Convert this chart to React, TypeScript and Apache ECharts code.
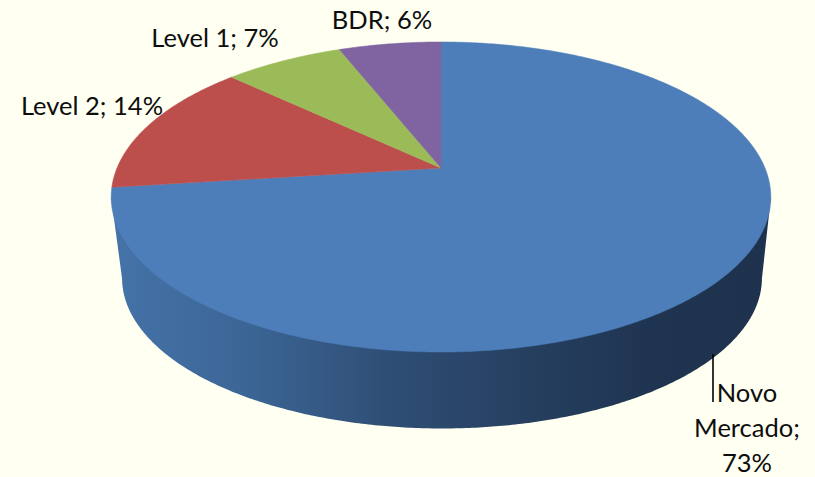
import React, { useEffect, useRef } from "react";
import * as echarts from "echarts";

const categories = ["Novo Mercado", "Level 2", "Level 1", "BDR"];
const values = [73, 14, 7, 6];
const sliceColors = ["#4D7EBA", "#BC4F4C", "#9BBB59", "#8064A2"];
const sideStops = [
  { offset: 0, color: "#4573A8" },
  { offset: 0.2, color: "#3C6696" },
  { offset: 0.42, color: "#2F4E75" },
  { offset: 0.62, color: "#264061" },
  { offset: 0.82, color: "#1F3450" },
  { offset: 1, color: "#1E324D" },
];
const labelLines = [["Novo", "Mercado;", "73%"], ["Level 2; 14%"], ["Level 1; 7%"], ["BDR; 6%"]];
const labelCentres = [[747, 392], [92, 105], [215, 37], [382, 19]];
const LINE_HEIGHT = 35;

// Perspective projection of the unit disc on to the page.
const view = { cx: 441, apexY: 168, a: 324, b: 149.6, k: 0.187 };
const base = { dx: 1, apexY: 250, scale: 0.97 };
const total = values.reduce((s, v) => s + v, 0);

function rim(theta: number): [number, number] {
  const u = Math.sin(theta);
  const v = Math.cos(theta);
  const w = 1 + view.k * v;
  return [view.cx + (view.a * u) / w, view.apexY - (view.b * v) / w];
}

function baseRim(theta: number): [number, number] {
  const [x, y] = rim(theta);
  return [
    view.cx + base.dx + base.scale * (x - view.cx),
    base.apexY + base.scale * (y - view.apexY),
  ];
}

function startOf(i: number) {
  return (values.slice(0, i).reduce((s, v) => s + v, 0) / total) * Math.PI * 2;
}

function renderSide() {
  const n = 720;
  const top = Array.from({ length: n }, (_, i) => rim((i / n) * Math.PI * 2));
  const bottom = Array.from({ length: n }, (_, i) => baseRim((i / n) * Math.PI * 2));
  let right = 0;
  let left = 0;
  top.forEach((p, i) => {
    if (p[0] > top[right][0]) right = i;
    if (p[0] < top[left][0]) left = i;
  });
  let bRight = 0;
  let bLeft = 0;
  bottom.forEach((p, i) => {
    if (p[0] > bottom[bRight][0]) bRight = i;
    if (p[0] < bottom[bLeft][0]) bLeft = i;
  });
  const points = [top[right], ...bottom.slice(bRight, bLeft + 1), top[left]];
  return {
    type: "polygon",
    shape: { points },
    silent: true,
    style: {
      fill: { type: "linear", x: 0, y: 0, x2: 1, y2: 0, colorStops: sideStops },
    },
  };
}

function renderSlice(params: any) {
  const i = params.dataIndex;
  const a0 = startOf(i);
  const a1 = startOf(i + 1);
  const steps = Math.max(8, Math.ceil(values[i] * 6));
  const points: [number, number][] = [[view.cx, view.apexY]];
  for (let s = 0; s <= steps; s++) points.push(rim(a0 + ((a1 - a0) * s) / steps));
  const [lx, ly] = labelCentres[i];
  const lines = labelLines[i];
  const children: any[] = [
    {
      type: "polygon",
      shape: { points },
      style: { fill: sliceColors[i], stroke: sliceColors[i], lineWidth: 0.5 },
    },
  ];
  lines.forEach((text, j) => {
    children.push({
      type: "text",
      z2: 10,
      style: {
        text,
        x: lx,
        y: ly + j * LINE_HEIGHT,
        align: "center",
        verticalAlign: "middle",
        fontFamily: "Lato",
        fontSize: 25.5,
        fill: "#0D0D0D",
      },
    });
  });
  return { type: "group", silent: true, children };
}

function renderLeader() {
  return {
    type: "line",
    silent: true,
    shape: { x1: 713, y1: 354, x2: 713, y2: 402 },
    style: { stroke: "#000000", lineWidth: 1.6 },
  };
}

export default function App() {
  const ref = useRef<HTMLDivElement>(null);
  useEffect(() => {
    const chart = echarts.init(ref.current!, null, { renderer: "svg" });
    chart.setOption({
      animation: false,
      backgroundColor: "#FFFFF2",
      series: [
        { type: "custom", coordinateSystem: "none", data: [values[0]], renderItem: renderSide, z: 1 },
        {
          type: "custom",
          coordinateSystem: "none",
          data: categories.map((name, i) => ({ name, value: values[i] })),
          renderItem: renderSlice,
          z: 2,
        },
        { type: "custom", coordinateSystem: "none", data: [values[0]], renderItem: renderLeader, z: 3 },
      ],
    });
    return () => chart.dispose();
  }, []);
  return (
    <div
      ref={ref}
      style={{ position: "fixed", left: 0, top: 0, width: 815, height: 477 }}
    />
  );
}
